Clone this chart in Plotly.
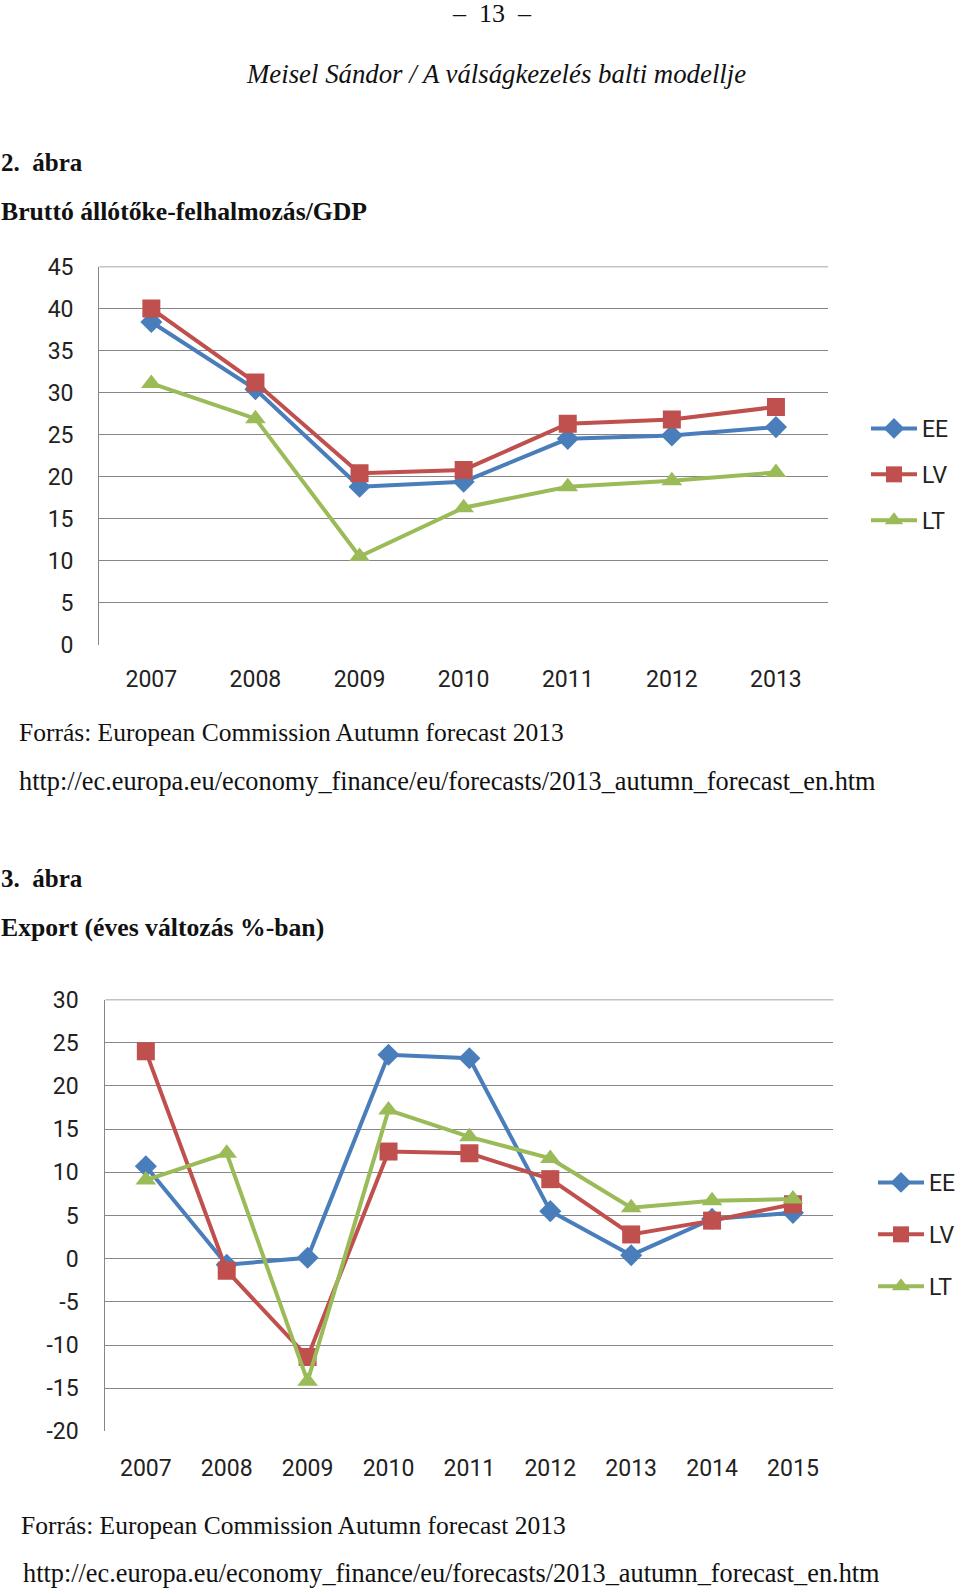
import plotly.graph_objects as go

W, H = 960, 1589

# ---- data: figure 2 (Bruttó állótőke-felhalmozás/GDP) ----
years1 = ["2007", "2008", "2009", "2010", "2011", "2012", "2013"]
ee1 = [38.4, 30.4, 18.8, 19.4, 24.5, 24.9, 25.9]
lv1 = [40.0, 31.2, 20.4, 20.8, 26.3, 26.8, 28.3]
lt1 = [31.1, 26.9, 10.5, 16.3, 18.8, 19.5, 20.5]
yticks1 = [0, 5, 10, 15, 20, 25, 30, 35, 40, 45]
yticklabels1 = ["0", "5", "10", "15", "20", "25", "30", "35", "40", "45"]

# ---- data: figure 3 (Export, éves változás %) ----
years2 = ["2007", "2008", "2009", "2010", "2011", "2012", "2013", "2014", "2015"]
ee2 = [10.7, -0.7, 0.1, 23.6, 23.2, 5.5, 0.4, 4.6, 5.3]
lv2 = [24.0, -1.4, -11.4, 12.4, 12.2, 9.2, 2.8, 4.4, 6.3]
lt2 = [9.1, 12.2, -14.2, 17.2, 14.1, 11.6, 5.9, 6.7, 6.9]
yticks2 = [-20, -15, -10, -5, 0, 5, 10, 15, 20, 25, 30]
yticklabels2 = ["-20", "-15", "-10", "-5", "0", "5", "10", "15", "20", "25", "30"]

series_names = ["EE", "LV", "LT"]
colors = ["#4A7EBB", "#C0504D", "#9BBB59"]
symbols = ["diamond", "square", "triangle-up"]
msizes = [17, 18, 18]

AX_FONT = dict(family="Roboto", size=23, color="#222222")
SERIF = "Liberation Serif"
GRID_COLOR = "#868686"


def px(x):
    return x / W


def py(y):
    return 1 - y / H


fig = go.Figure()

for i, (name, vals) in enumerate(zip(series_names, [ee1, lv1, lt1])):
    fig.add_trace(go.Scatter(
        x=years1, y=vals, name=name, mode="lines+markers",
        line=dict(color=colors[i], width=4),
        marker=dict(symbol=symbols[i], size=msizes[i], color=colors[i]),
        xaxis="x", yaxis="y", legend="legend", legendgroup="a" + name,
    ))

for i, (name, vals) in enumerate(zip(series_names, [ee2, lv2, lt2])):
    fig.add_trace(go.Scatter(
        x=years2, y=vals, name=name, mode="lines+markers",
        line=dict(color=colors[i], width=4),
        marker=dict(symbol=symbols[i], size=msizes[i], color=colors[i]),
        xaxis="x2", yaxis="y2", legend="legend2", legendgroup="b" + name,
    ))

grid = dict(showgrid=True, gridcolor=GRID_COLOR, gridwidth=1.4, zeroline=False)

fig.update_layout(
    width=W, height=H,
    margin=dict(l=0, r=0, t=0, b=0, autoexpand=False),
    paper_bgcolor="white", plot_bgcolor="white",
    xaxis=dict(domain=[px(99.3), px(828)], anchor="y", type="category",
               range=[-0.5, 6.5], showgrid=False, showline=False, ticks="",
               tickfont=AX_FONT, ticklabelstandoff=18, fixedrange=True),
    yaxis=dict(domain=[py(644.7), py(266.6)], anchor="x", range=[0, 45],
               tickvals=yticks1, ticktext=yticklabels1,
               showline=True, linecolor=GRID_COLOR, linewidth=1.4,
               ticks="", tickfont=AX_FONT, ticklabelstandoff=20, fixedrange=True, **grid),
    xaxis2=dict(domain=[px(105.4), px(833.4)], anchor="y2", type="category",
                range=[-0.5, 8.5], showgrid=False, showline=False, ticks="",
                tickfont=AX_FONT, ticklabelstandoff=21, fixedrange=True),
    yaxis2=dict(domain=[py(1431.4), py(999.5)], anchor="x2", range=[-20, 30],
                tickvals=yticks2, ticktext=yticklabels2,
                showline=True, linecolor=GRID_COLOR, linewidth=1.4,
                ticks="", tickfont=AX_FONT, ticklabelstandoff=21, fixedrange=True, **grid),
    legend=dict(x=px(866), y=py(407), xanchor="left", yanchor="top",
                font=AX_FONT, bgcolor="rgba(0,0,0,0)", tracegroupgap=13,
                itemsizing="trace", itemwidth=46),
    legend2=dict(x=px(873), y=py(1161), xanchor="left", yanchor="top",
                 font=AX_FONT, bgcolor="rgba(0,0,0,0)", tracegroupgap=19,
                 itemsizing="trace", itemwidth=46),
    showlegend=True,
)

# top gridlines (plotly omits the grid line lying on the plot edge)
fig.add_shape(type="line", xref="x domain", yref="y", x0=0, x1=1, y0=yticks1[-1], y1=yticks1[-1],
              line=dict(color=GRID_COLOR, width=1.4), layer="below")
fig.add_shape(type="line", xref="x2 domain", yref="y2", x0=0, x1=1, y0=yticks2[-1], y1=yticks2[-1],
              line=dict(color=GRID_COLOR, width=1.4), layer="below")

C = "#111111"
texts = [
    ("–  13  –", 492, 13, "center", dict(family=SERIF, size=26, color=C)),
    ("<i>Meisel Sándor / A válságkezelés balti modellje</i>", 496, 74, "center",
     dict(family=SERIF, size=26.8, color=C)),
    ("<b>2.  ábra</b>", 0, 163, "left", dict(family=SERIF, size=25, color=C)),
    ("<b>Bruttó állótőke-felhalmozás/GDP</b>", 0, 212, "left",
     dict(family=SERIF, size=25.7, color=C)),
    ("Forrás: European Commission Autumn forecast 2013", 18, 732, "left",
     dict(family=SERIF, size=25.5, color=C)),
    ("http://ec.europa.eu/economy_finance/eu/forecasts/2013_autumn_forecast_en.htm", 18, 781, "left",
     dict(family=SERIF, size=26.3, color=C)),
    ("<b>3.  ábra</b>", 0, 878, "left", dict(family=SERIF, size=25, color=C)),
    ("<b>Export (éves változás %-ban)</b>", 0, 927, "left",
     dict(family=SERIF, size=25.7, color=C)),
    ("Forrás: European Commission Autumn forecast 2013", 20, 1525, "left",
     dict(family=SERIF, size=25.5, color=C)),
    ("http://ec.europa.eu/economy_finance/eu/forecasts/2013_autumn_forecast_en.htm", 22, 1573, "left",
     dict(family=SERIF, size=26.3, color=C)),
]

for t, x, y, anchor, font in texts:
    fig.add_annotation(text=t, x=px(x), y=py(y), xref="paper", yref="paper",
                       xanchor=anchor, yanchor="middle", showarrow=False, font=font,
                       borderpad=0)

fig.write_html("out.html", config={"displayModeBar": False},
               post_script="document.body.style.margin='0px';")
